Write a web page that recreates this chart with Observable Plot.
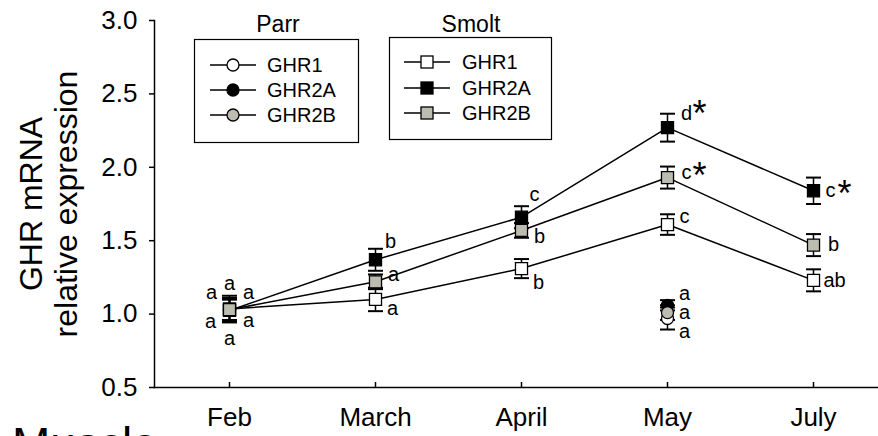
<!DOCTYPE html>
<html>
<head>
<meta charset="utf-8">
<script src="https://cdn.jsdelivr.net/npm/d3@7"></script>
<script src="https://cdn.jsdelivr.net/npm/@observablehq/plot@0.6"></script>
<style>
html, body { margin: 0; padding: 0; background: #fff; overflow: hidden; }
#wrap { position: relative; width: 878px; height: 436px; font-family: "Liberation Sans", Arial, sans-serif; }
#overlay { position: absolute; left: 0; top: 0; pointer-events: none; }
</style>
</head>
<body>
<div id="wrap"></div>
<script>
// ---- data ----
const months = ["Feb", "March", "April", "May", "July"];
const yTicks = [0.5, 1.0, 1.5, 2.0, 2.5, 3.0];
const seriesNames = ["GHR1", "GHR2A", "GHR2B"];

const smoltGHR1 = [1.035, 1.10, 1.31, 1.61, 1.23];
const smoltGHR1Err = [0.09, 0.08, 0.065, 0.07, 0.075];
const smoltGHR2A = [1.025, 1.37, 1.66, 2.27, 1.84];
const smoltGHR2AErr = [0.08, 0.075, 0.075, 0.095, 0.09];
const smoltGHR2B = [1.03, 1.22, 1.57, 1.93, 1.47];
const smoltGHR2BErr = [0.07, 0.05, 0.05, 0.075, 0.075];

const parrMonths = ["Feb", "May"];
const parrGHR1 = [1.03, 0.97];
const parrGHR1Err = [0.08, 0.075];
const parrGHR2A = [1.025, 1.06];
const parrGHR2AErr = [0.08, 0.035];
const parrGHR2B = [1.03, 1.01];
const parrGHR2BErr = [0.07, 0.05];

const sigSmoltGHR1 = ["a", "a", "b", "c", "ab"];
const sigSmoltGHR2A = ["a", "b", "c", "d", "c"];
const sigSmoltGHR2B = ["a", "a", "b", "c", "b"];
const starSmoltGHR2A = ["", "", "", "*", "*"];
const starSmoltGHR2B = ["", "", "", "*", ""];
const sigParrGHR1 = ["a", "a"];
const sigParrGHR2A = ["a", "a"];
const sigParrGHR2B = ["a", "a"];

const legendGroups = ["Parr", "Smolt"];
const yTitle = "GHR mRNA\nrelative expression";
const panelLabel = "Muscle";

// ---- styles ----
const fills = {GHR1: "#ffffff", GHR2A: "#000000", GHR2B: "#bcbcb0"};

// label offsets (pixels) relative to point, per group/series/month index
const labelOffsets = {
  smolt: {
    GHR1:  [[19, 12], [17, 9], [17, 14], [17, -8], [21, 0]],
    GHR2A: [[0, 28], [15, -18], [13, -23], [19, -14], [17, 0]],
    GHR2B: [[-19, 12], [18, -7], [18, 6], [19, -5], [20, -1]],
  },
  parr: {
    GHR1:  [[-18, -17], [17, 13]],
    GHR2A: [[0, -27], [17, -12]],
    GHR2B: [[19, -17], [17, 0]],
  }
};
const starOffsets = {GHR2A: [null, null, null, [32, -13], [31, 4]], GHR2B: [null, null, null, [32, -1], null]};

// ---- build tables ----
const smoltVals = {GHR1: smoltGHR1, GHR2A: smoltGHR2A, GHR2B: smoltGHR2B};
const smoltErrs = {GHR1: smoltGHR1Err, GHR2A: smoltGHR2AErr, GHR2B: smoltGHR2BErr};
const smoltSig = {GHR1: sigSmoltGHR1, GHR2A: sigSmoltGHR2A, GHR2B: sigSmoltGHR2B};
const smoltStar = {GHR2A: starSmoltGHR2A, GHR2B: starSmoltGHR2B};
const parrVals = {GHR1: parrGHR1, GHR2A: parrGHR2A, GHR2B: parrGHR2B};
const parrErrs = {GHR1: parrGHR1Err, GHR2A: parrGHR2AErr, GHR2B: parrGHR2BErr};
const parrSig = {GHR1: sigParrGHR1, GHR2A: sigParrGHR2A, GHR2B: sigParrGHR2B};

const smolt = [];
for (const s of seriesNames) months.forEach((m, i) => smolt.push({
  group: "smolt", series: s, month: m, i, v: smoltVals[s][i], e: smoltErrs[s][i],
  sig: smoltSig[s][i], star: smoltStar[s] ? smoltStar[s][i] : ""
}));
const parr = [];
for (const s of seriesNames) parrMonths.forEach((m, i) => parr.push({
  group: "parr", series: s, month: m, i, v: parrVals[s][i], e: parrErrs[s][i], sig: parrSig[s][i], star: ""
}));
const all = [...parr, ...smolt];

const sigMarks = all.map(d => {
  const [dx, dy] = labelOffsets[d.group][d.series][d.i];
  return Plot.text([d], {x: "month", y: "v", text: "sig", dx, dy, fontSize: 20, textAnchor: "middle", fill: "black"});
});
const starMarks = smolt.filter(d => d.star).map(d => {
  const [dx, dy] = starOffsets[d.series][d.i];
  return Plot.text([d], {x: "month", y: "v", text: "star", dx, dy, fontSize: 36, textAnchor: "middle", fill: "black"});
});

// horizontal cap symbol for error bars
const capSymbol = {draw(ctx, size) { const w = Math.sqrt(size / Math.PI); ctx.moveTo(-w, 0); ctx.lineTo(w, 0); }};

const errMarks = (data) => [
  Plot.ruleX(data, {x: "month", y1: d => d.v - d.e, y2: d => d.v + d.e, stroke: "black", strokeWidth: 1.5}),
  Plot.dot(data, {x: "month", y: d => d.v + d.e, r: 7.5, symbol: capSymbol, stroke: "black", strokeWidth: 2, fill: "none"}),
  Plot.dot(data, {x: "month", y: d => d.v - d.e, r: 7.5, symbol: capSymbol, stroke: "black", strokeWidth: 2, fill: "none"}),
];

const plot = Plot.plot({
  width: 878, height: 436,
  marginLeft: 154, marginRight: 0, marginTop: 20, marginBottom: 49,
  style: {fontFamily: "'Liberation Sans', Arial, sans-serif", color: "#000", background: "transparent", overflow: "visible"},
  x: {type: "point", domain: months, range: [154, 888], padding: 0.5, axis: null},
  y: {domain: [0.5, 3.0], axis: null},
  marks: [
    Plot.frame({anchor: "left", strokeWidth: 1.5}),
    Plot.frame({anchor: "bottom", strokeWidth: 1.5}),
    Plot.axisY({ticks: yTicks, tickFormat: d3.format(".1f"), tickSize: 5, tickPadding: 12, fontSize: 26, strokeWidth: 1.5, label: null}),
    Plot.axisX({tickSize: 0, tickPadding: 20, fontSize: 26, label: null}),
    Plot.axisX({tickSize: 5, dy: -5, fill: "none", strokeWidth: 1.5, label: null}),
    Plot.text([yTitle], {frameAnchor: "left", dx: -106, rotate: -90, fontSize: 32, lineHeight: 1.09, textAnchor: "middle", lineAnchor: "middle", text: d => d, fill: "black"}),
    Plot.line(smolt, {x: "month", y: "v", z: "series", stroke: "black", strokeWidth: 1.5}),
    ...errMarks(parr),
    ...errMarks(smolt),
    Plot.dot(parr, {x: "month", y: "v", r: 6, symbol: "circle", fill: d => fills[d.series], stroke: "black", strokeWidth: 1.3}),
    Plot.dot(smolt, {x: "month", y: "v", r: 6.8, symbol: "square", fill: d => fills[d.series], stroke: "black", strokeWidth: 1.3}),
    ...sigMarks,
    ...starMarks,
  ]
});

const wrap = document.getElementById("wrap");
wrap.appendChild(plot);

// ---- overlay: legend + panel label ----
const svg = d3.select(wrap).append("svg").attr("id", "overlay").attr("width", 878).attr("height", 436)
  .style("font-family", "'Liberation Sans', Arial, sans-serif");

const boxes = [
  {title: legendGroups[0], bx: 194, by: 39, bw: 164, bh: 103, tx: 278, l1: 210, l2: 256, mx: 233, textX: 267, rows: [65, 90, 115], shape: "circle"},
  {title: legendGroups[1], bx: 389, by: 37, bw: 162, bh: 102, tx: 471, l1: 404, l2: 450, mx: 427, textX: 462, rows: [62, 88, 113], shape: "square"},
];
for (const b of boxes) {
  svg.append("text").attr("x", b.tx).attr("y", 32).attr("text-anchor", "middle").attr("font-size", 23).text(b.title);
  svg.append("rect").attr("x", b.bx + 0.5).attr("y", b.by + 0.5).attr("width", b.bw).attr("height", b.bh)
    .attr("fill", "none").attr("stroke", "black").attr("stroke-width", 1.2);
  seriesNames.forEach((s, k) => {
    const y = b.rows[k];
    svg.append("line").attr("x1", b.l1).attr("x2", b.l2).attr("y1", y).attr("y2", y).attr("stroke", "black").attr("stroke-width", 1.5);
    if (b.shape === "circle") {
      svg.append("circle").attr("cx", b.mx).attr("cy", y).attr("r", 6).attr("fill", fills[s]).attr("stroke", "black").attr("stroke-width", 1.3);
    } else {
      svg.append("rect").attr("x", b.mx - 6).attr("y", y - 6).attr("width", 12).attr("height", 12).attr("fill", fills[s]).attr("stroke", "black").attr("stroke-width", 1.3);
    }
    svg.append("text").attr("x", b.textX).attr("y", y + 7).attr("font-size", 20).text(s);
  });
}
svg.append("text").attr("x", 12).attr("y", 460).attr("font-size", 46).text(panelLabel);
</script>
</body>
</html>
